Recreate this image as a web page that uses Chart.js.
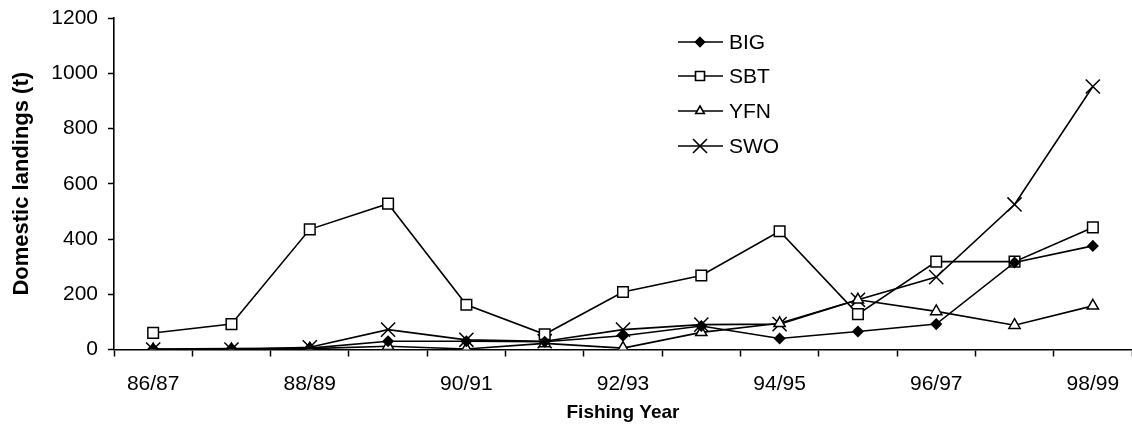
<!DOCTYPE html>
<html>
<head>
<meta charset="utf-8">
<title>Domestic landings</title>
<script src="https://cdn.jsdelivr.net/npm/chart.js@4/dist/chart.umd.min.js"></script>
<style>
  html, body { margin: 0; padding: 0; background: #fff; }
  #wrap { width: 1132px; height: 438px; }
</style>
</head>
<body>
<div id="wrap"><canvas id="chart" width="1132" height="438"></canvas></div>
<script>
// fishing years on the x axis
var years = ['86/87', '87/88', '88/89', '89/90', '90/91', '91/92', '92/93',
             '93/94', '94/95', '95/96', '96/97', '97/98', '98/99'];

// landings in tonnes
var bigValues = [2, 3, 5, 30, 30, 28, 50, 85, 40, 65, 92, 315, 375];
var sbtValues = [60, 92, 435, 528, 162, 55, 208, 268, 428, 128, 318, 318, 442];
var yfnValues = [0, 0, 3, 12, 2, 22, 5, 62, 95, 180, 138, 88, 158];
var swoValues = [0, 0, 8, 72, 35, 30, 72, 90, 92, 180, 262, 525, 952];

var seriesNames = ['BIG', 'SBT', 'YFN', 'SWO'];
var yTicks = [0, 200, 400, 600, 800, 1000, 1200];

var FONT = "'Liberation Sans', Arial, sans-serif";

function drawMarker(ctx, style, r, x, y, fill) {
    ctx.beginPath();
    if (style === 'rectRot') {
        ctx.moveTo(x, y - r);
        ctx.lineTo(x + r, y);
        ctx.lineTo(x, y + r);
        ctx.lineTo(x - r, y);
        ctx.closePath();
    } else if (style === 'rect') {
        ctx.rect(x - r, y - r, 2 * r, 2 * r);
    } else if (style === 'triangle') {
        ctx.moveTo(x, y - r);
        ctx.lineTo(x + r * 0.866, y + r * 0.5);
        ctx.lineTo(x - r * 0.866, y + r * 0.5);
        ctx.closePath();
    } else if (style === 'crossRot') {
        ctx.moveTo(x - r, y - r);
        ctx.lineTo(x + r, y + r);
        ctx.moveTo(x + r, y - r);
        ctx.lineTo(x - r, y + r);
    }
    if (fill) {
        ctx.fillStyle = fill;
        ctx.fill();
    }
    ctx.stroke();
}

// legend drawn inside the plot, top right
var insideLegend = {
    id: 'insideLegend',
    afterDraw: function(chart) {
        var ctx = chart.ctx;
        var sizes = [4.5, 4.5, 5, 7];
        var x0 = 678, x1 = 723, xm = 700;
        var ys = [42, 76, 111, 146];
        ctx.save();
        ctx.strokeStyle = '#000';
        ctx.lineWidth = 1.6;
        ctx.font = '21px ' + FONT;
        ctx.textBaseline = 'middle';
        ctx.textAlign = 'left';
        for (var i = 0; i < chart.data.datasets.length; i++) {
            var ds = chart.data.datasets[i];
            ctx.beginPath();
            ctx.moveTo(x0, ys[i]);
            ctx.lineTo(x1, ys[i]);
            ctx.stroke();
            var fill = ds.pointStyle === 'crossRot' ? null : ds.pointBackgroundColor;
            drawMarker(ctx, ds.pointStyle, sizes[i], xm, ys[i], fill);
            ctx.fillStyle = '#000';
            ctx.fillText(ds.label, 729, ys[i] + 1);
        }
        ctx.restore();
    }
};

var lineDefaults = {
    borderColor: '#000',
    borderWidth: 1.6,
    pointBorderColor: '#000',
    pointBorderWidth: 1.5,
    tension: 0,
    fill: false
};

function makeSet(name, values, style, radius, bg) {
    var ds = Object.assign({}, lineDefaults);
    ds.label = name;
    ds.data = values;
    ds.pointStyle = style;
    ds.pointRadius = radius;
    ds.pointHoverRadius = radius;
    ds.pointBackgroundColor = bg;
    return ds;
}

new Chart(document.getElementById('chart').getContext('2d'), {
    type: 'line',
    data: {
        labels: years,
        datasets: [
            makeSet(seriesNames[0], bigValues, 'rectRot', 5, '#000'),
            makeSet(seriesNames[1], sbtValues, 'rect', 7.5, '#fff'),
            makeSet(seriesNames[2], yfnValues, 'triangle', 6.5, '#fff'),
            makeSet(seriesNames[3], swoValues, 'crossRot', 10, '#000')
        ]
    },
    options: {
        responsive: false,
        animation: false,
        layout: {
            autoPadding: false,
            padding: { top: 18, right: 0, bottom: 0, left: 0 }
        },
        plugins: {
            legend: { display: false },
            tooltip: { enabled: false }
        },
        scales: {
            x: {
                type: 'category',
                offset: true,
                afterFit: function(scale) {
                    scale.height = 88.5;
                    scale.paddingLeft = 0;
                    scale.paddingRight = 0;
                },
                grid: {
                    offset: true,
                    drawOnChartArea: false,
                    drawTicks: true,
                    tickLength: 7,
                    tickWidth: 1.5,
                    tickColor: '#000'
                },
                border: { color: '#000', width: 1.6 },
                ticks: {
                    autoSkip: false,
                    maxRotation: 0,
                    padding: 15,
                    color: '#000',
                    font: { family: FONT, size: 21 },
                    callback: function(v, i) { return i % 2 === 0 ? years[i] : ''; }
                },
                title: {
                    display: true,
                    text: 'Fishing Year',
                    color: '#000',
                    font: { family: FONT, size: 19, weight: 'bold' },
                    padding: { top: 0, bottom: 14 }
                }
            },
            y: {
                min: 0,
                max: 1200,
                afterFit: function(scale) {
                    scale.width = 114;
                    scale.paddingTop = 0;
                    scale.paddingBottom = 0;
                },
                afterBuildTicks: function(scale) {
                    scale.ticks = yTicks.map(function(v) { return { value: v }; });
                },
                grid: {
                    drawOnChartArea: false,
                    drawTicks: true,
                    tickLength: 6,
                    tickWidth: 1.5,
                    tickColor: '#000'
                },
                border: { color: '#000', width: 1.6 },
                ticks: {
                    padding: 10,
                    color: '#000',
                    font: { family: FONT, size: 21 },
                    callback: function(v) { return String(v); }
                },
                title: {
                    display: true,
                    text: 'Domestic landings (t)',
                    color: '#000',
                    font: { family: FONT, size: 22, weight: 'bold' },
                    padding: { top: 9, bottom: 0 }
                }
            }
        }
    },
    plugins: [insideLegend]
});
</script>
</body>
</html>
